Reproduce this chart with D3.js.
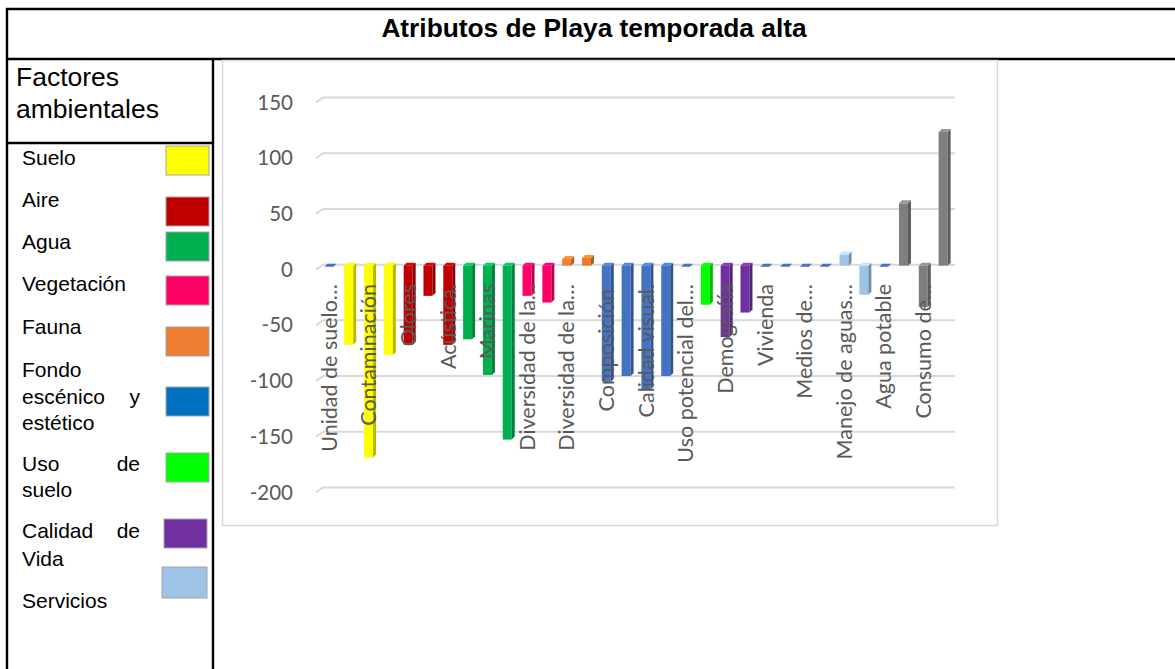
<!DOCTYPE html>
<html><head><meta charset="utf-8">
<script src="https://cdn.jsdelivr.net/npm/d3@7"></script>
<style>body{margin:0;background:#fff} svg{display:block}</style>
</head><body><svg id="c" width="1175" height="669"></svg>
<script>
const title = "Atributos de Playa temporada alta";
const legendHeader = "Factores ambientales";
const categories = [
  "Unidad de suelo…","Erosión","Contaminación","Residuos sólidos",
  "Olores","Calidad del aire","Acústica.","Calidad del agua",
  "Marinas","Aguas subterráneas","Diversidad de la…","Cobertura vegetal",
  "Diversidad de la… ","Hábitat","Composición.","Paisaje",
  "Calidad visual.","Visibilidad","Uso potencial del…","Cambio de uso",
  "Demografía","Empleo","Vivienda","Salud",
  "Medios de…","Educación","Manejo de aguas…","Energía eléctrica",
  "Agua potable","Recolección de residuos","Consumo de…","Tráfico"
];
const values = [
  0,-72,-173,-81,
  -72,-28,-72,-67,
  -99,-157,-28,-34,
  5,6,-105,-100,
  -112,-100,0,-36,
  -65,-43,0,0,
  0,0,9,-27,
  0,55,-38,119
];
const groups = [
  "Suelo","Suelo","Suelo","Suelo",
  "Aire","Aire","Aire","Agua",
  "Agua","Agua","Vegetación","Vegetación",
  "Fauna","Fauna","Fondo","Fondo",
  "Fondo","Fondo","Uso","Uso",
  "Vida","Vida","Vida","Vida",
  "Vida","Vida","Servicios","Servicios",
  "Servicios","Otros","Otros","Otros"
];
const groupKeys   = ["Suelo","Aire","Agua","Vegetación","Fauna","Fondo","Uso","Vida","Servicios","Otros"];
const groupColors = ["#FFFF00","#C00000","#00B050","#FF0066","#ED7D31","#4472C4","#00FF00","#7030A0","#9DC3E6","#7F7F7F"];
const zeroColor = "#4472C4";
const yTicks = [150,100,50,0,-50,-100,-150,-200];
const legendNames  = ["Suelo","Aire","Agua","Vegetación","Fauna","Fondo escénico y estético","Uso de suelo","Calidad de Vida","Servicios"];
const legendColors = ["#FFFF00","#C00000","#00B050","#FF0066","#ED7D31","#0070C0","#00FF00","#7030A0","#9DC3E6"];

const svg = d3.select("#c");
svg.append("rect").attr("width",1175).attr("height",669).attr("fill","#fff");

// ---- table frame
const frame = svg.append("g").attr("stroke","#000").attr("stroke-width",2.4);
frame.append("line").attr("x1",6).attr("x2",1175).attr("y1",9).attr("y2",9);
frame.append("line").attr("x1",6).attr("x2",1175).attr("y1",59).attr("y2",59);
frame.append("line").attr("x1",7).attr("x2",7).attr("y1",8).attr("y2",669);
frame.append("line").attr("x1",213).attr("x2",213).attr("y1",58).attr("y2",669);
frame.append("line").attr("x1",7).attr("x2",213).attr("y1",143).attr("y2",143);

svg.append("text").attr("x",594).attr("y",37).attr("text-anchor","middle")
  .attr("font-family","'Liberation Sans',Arial,sans-serif").attr("font-weight","bold")
  .attr("font-size",26.3).attr("fill","#000").text(title);

// ---- legend
const hdr = legendHeader.split(" ");
const lf = "'Liberation Sans',Arial,sans-serif";
svg.append("text").attr("x",16).attr("y",86).attr("font-family",lf).attr("font-size",26.5).text(hdr[0]);
svg.append("text").attr("x",16).attr("y",118).attr("font-family",lf).attr("font-size",26.5).text(hdr[1]);

const legendLayout = [
  {lines:[["Suelo",165]], sy:146, sx:166},
  {lines:[["Aire",207]], sy:197, sx:166},
  {lines:[["Agua",249]], sy:232, sx:166},
  {lines:[["Vegetación",291]], sy:276, sx:166},
  {lines:[["Fauna",334]], sy:327, sx:166},
  {lines:[["Fondo",377],["escénico|y",404],["estético",430]], sy:387, sx:166},
  {lines:[["Uso|de",471],["suelo",497]], sy:453, sx:166},
  {lines:[["Calidad|de",538],["Vida",566]], sy:519, sx:164},
  {lines:[["Servicios",608]], sy:567, sx:162, w:45, h:31}
];
legendNames.forEach((name,i)=>{
  const L = legendLayout[i];
  L.lines.forEach(([t,y])=>{
    const parts = t.split("|");
    svg.append("text").attr("x",22).attr("y",y).attr("font-family",lf).attr("font-size",21).attr("fill","#000").text(parts[0]);
    if(parts[1]) svg.append("text").attr("x",140).attr("y",y).attr("text-anchor","end").attr("font-family",lf).attr("font-size",21).attr("fill","#000").text(parts[1]);
  });
  svg.append("rect").attr("x",L.sx).attr("y",L.sy).attr("width",L.w||43).attr("height",L.h||29)
    .attr("fill",legendColors[i]).attr("stroke","#a6a6a6").attr("stroke-width",1);
});

// ---- chart area
svg.append("rect").attr("x",222.5).attr("y",60.5).attr("width",775).attr("height",465)
  .attr("fill","#fff").attr("stroke","#d9d9d9").attr("stroke-width",1.5);

const y = d3.scaleLinear().domain([-200,150]).range([487.5,97.5]);
const x = d3.scaleBand().domain(categories).range([321,955]).padding(0);
const dy = 5;

const grid = svg.append("g");
yTicks.forEach(t=>{
  grid.append("path").attr("d",`M${316},${y(t)+dy} L${323},${y(t)} L${955},${y(t)}`)
    .attr("fill","none").attr("stroke","#d9d9d9").attr("stroke-width",2);
});

const yAxis = d3.axisLeft(y).tickValues(yTicks).tickSize(0).tickPadding(0).tickFormat(d=>String(d));
const ga = svg.append("g").attr("transform","translate(293,5)").call(yAxis);
ga.select(".domain").remove();
ga.selectAll("text").attr("font-family","Lato, 'Open Sans', sans-serif").attr("font-size",20.5).attr("fill","#595959");

const colorOf = g => groupColors[groupKeys.indexOf(g)];
const bars = svg.append("g");
const y0 = y(0);
categories.forEach((c,i)=>{
  const v = values[i];
  const cx = x(c) + x.bandwidth()/2;
  const xl = cx - 6.5, xr = cx + 2.5, d = 3;
  if (v === 0) {
    bars.append("path").attr("d",`M${xl},${y0+2} L${xr},${y0+2} L${xr+d},${y0-1} L${xl+d},${y0-1} Z`)
      .attr("fill",zeroColor);
    return;
  }
  const col = d3.color(colorOf(groups[i]));
  const top = Math.min(y(v), y0+1), bot = Math.max(y(v), y0+1);
  bars.append("rect").attr("x",xl).attr("y",top).attr("width",xr-xl).attr("height",bot-top).attr("fill",col.formatHex());
  bars.append("path").attr("d",`M${xr},${top} L${xr+d},${top-d} L${xr+d},${bot-d} L${xr},${bot} Z`)
    .attr("fill",col.darker(0.9).formatHex());
  bars.append("path").attr("d",`M${xl},${top} L${xr},${top} L${xr+d},${top-d} L${xl+d},${top-d} Z`)
    .attr("fill",col.brighter(0.5).formatHex());
});

// category labels (every other)
const xAxis = d3.axisBottom(x).tickValues(categories.filter((c,i)=>i%2===0)).tickSize(0);
const gx = svg.append("g").call(xAxis);
gx.select(".domain").remove();
gx.selectAll(".tick line").remove();
gx.selectAll(".tick text")
  .attr("transform","translate(0,284) rotate(-90)")
  .attr("text-anchor","end").attr("x",0).attr("y",0).attr("dy","0.36em")
  .attr("font-family","Lato, 'Open Sans', sans-serif").attr("font-size",21.5).attr("fill","#595959");
gx.selectAll(".tick").attr("transform",d=>`translate(${x(d)+x.bandwidth()/2-2},0)`);
</script></body></html>
